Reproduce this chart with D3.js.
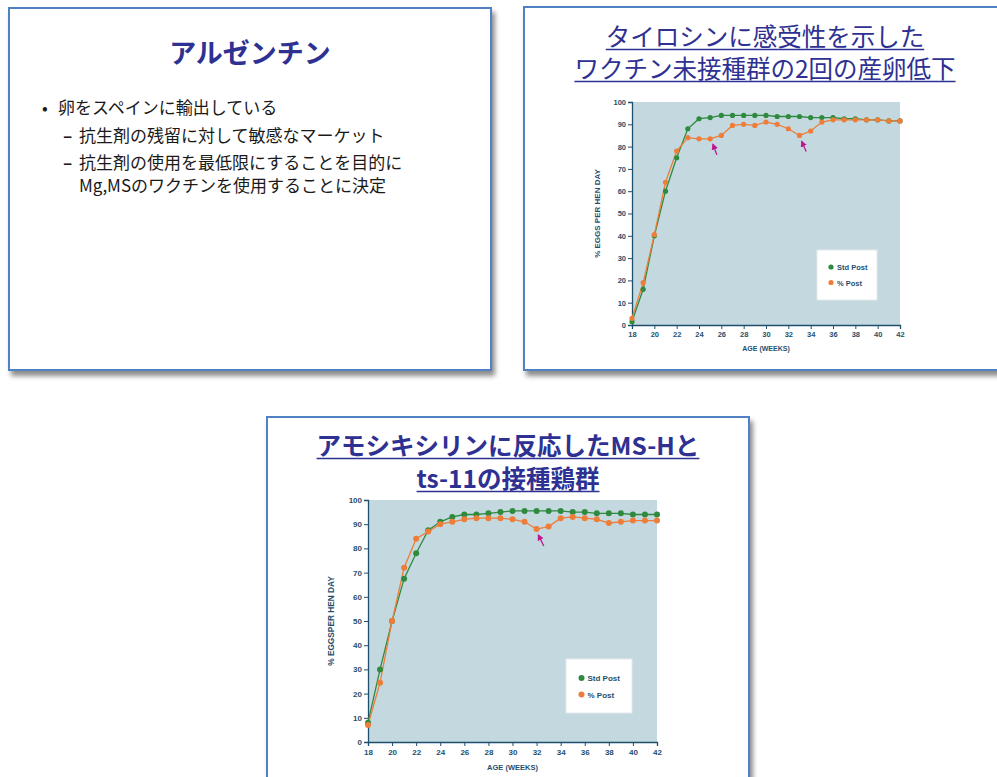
<!DOCTYPE html>
<html>
<head>
<meta charset="utf-8">
<script src="https://cdn.jsdelivr.net/npm/d3@7"></script>
<style>
  html, body { margin: 0; padding: 0; background: #ffffff; }
  svg { display: block; }
</style>
</head>
<body>
<svg id="page" width="997" height="777"></svg>
<script>
// ---- data -------------------------------------------------------------
const weeks = [18, 19, 20, 21, 22, 23, 24, 25, 26, 27, 28, 29, 30, 31, 32, 33, 34, 35, 36, 37, 38, 39, 40, 41, 42];

// Tylosin-sensitive, unvaccinated flock
const tylosinStd  = [1.5, 16, 40, 60, 75, 88, 92.5, 93, 94, 94, 94, 94, 94, 93.5, 93.5, 93.5, 93, 93, 93, 92.5, 92.5, 92, 92, 91.5, 91.5];
const tylosinPost = [3, 19, 40.5, 64, 78, 84, 83.5, 83.5, 85, 89.5, 90, 89.5, 91, 90, 88, 85, 87, 91, 92, 92, 92, 92, 92, 91.5, 91.5];

// Amoxicillin-responsive flock vaccinated with MS-H and ts-11
const amoxStd  = [8, 30, 50, 67.5, 78, 87.5, 91, 93, 94, 94, 94.5, 95, 95.5, 95.5, 95.5, 95.5, 95.5, 95, 95, 94.5, 94.5, 94.5, 94, 94, 94];
const amoxPost = [7, 24.5, 50, 72, 84, 87, 90, 91, 92, 92.5, 92.5, 92.5, 92, 91, 88, 89, 92.5, 93, 92.5, 92, 90.5, 91, 91.5, 91.5, 91.5];

const xTicks = [18, 20, 22, 24, 26, 28, 30, 32, 34, 36, 38, 40, 42];
const yTicks = [0, 10, 20, 30, 40, 50, 60, 70, 80, 90, 100];
const seriesNames = ["Std Post", "% Post"];

// drop markers: [tipWeek, tipValue, tailWeek, tailValue]
const tylosinDrops = [[25.25, 81, 25.6, 76.3], [33.2, 82.3, 33.6, 77.8]];
const amoxDrops    = [[32.15, 85.5, 32.6, 81]];

// slide text
const slide1Title = "アルゼンチン";
const slide1Bullets = [
  { mark: "•", text: "卵をスペインに輸出している", level: 0 },
  { mark: "–", text: "抗生剤の残留に対して敏感なマーケット", level: 1 },
  { mark: "–", text: "抗生剤の使用を最低限にすることを目的に", level: 1 },
  { mark: "",  text: "Mg,MSのワクチンを使用することに決定", level: 1 }
];
const slide2Title = ["タイロシンに感受性を示した", "ワクチン未接種群の2回の産卵低下"];
const slide3Title = ["アモシキシリンに反応したMS-Hと", "ts-11の接種鶏群"];

// ---- styles -----------------------------------------------------------
const NAVY = "#2e3192";
const AXIS = "#1f4f6e";
const GREEN = "#2f8a3f";
const ORANGE = "#ef7d3a";
const PLOTBG = "#c3d9df";
const ARROW = "#c0178f";
const JP = "'Noto Sans CJK JP', 'Noto Sans', sans-serif";
const SANS = "'Liberation Sans', Arial, sans-serif";

const svg = d3.select("#page");
const defs = svg.append("defs");

const shadow = defs.append("filter").attr("id", "slideShadow")
  .attr("x", "-5%").attr("y", "-5%").attr("width", "115%").attr("height", "115%");
shadow.append("feDropShadow")
  .attr("dx", 3).attr("dy", 5).attr("stdDeviation", 2.5)
  .attr("flood-color", "#000").attr("flood-opacity", 0.45);

const arrowHead = defs.append("marker").attr("id", "dropArrow")
  .attr("viewBox", "0 0 10 10").attr("refX", 8).attr("refY", 5)
  .attr("markerWidth", 5).attr("markerHeight", 5).attr("orient", "auto");
arrowHead.append("path").attr("d", "M0,0 L10,5 L0,10 z").attr("fill", ARROW);

// ---- slide frames ------------------------------------------------------
function slideFrame(x, y, w, h) {
  svg.append("rect")
    .attr("x", x).attr("y", y).attr("width", w).attr("height", h)
    .attr("fill", "#ffffff")
    .attr("stroke", "#4f81c4").attr("stroke-width", 2)
    .attr("filter", "url(#slideShadow)");
}
slideFrame(9, 8, 482, 362);
slideFrame(524, 7, 484, 363);
slideFrame(267, 417, 482, 400);

// underlined title block, lines centred on cx
function titleBlock(lines, cx, baselines, size, weight) {
  lines.forEach((t, i) => {
    const txt = svg.append("text")
      .attr("x", cx).attr("y", baselines[i])
      .attr("text-anchor", "middle")
      .attr("font-family", JP).attr("font-size", size).attr("font-weight", weight)
      .attr("fill", NAVY).text(t);
    const w = txt.node().getComputedTextLength();
    svg.append("line")
      .attr("x1", cx - w / 2).attr("x2", cx + w / 2)
      .attr("y1", baselines[i] + 3.5).attr("y2", baselines[i] + 3.5)
      .attr("stroke", NAVY).attr("stroke-width", 1.6);
  });
}

// ---- slide 1: text only ---------------------------------------------
svg.append("text")
  .attr("x", 250).attr("y", 63)
  .attr("text-anchor", "middle")
  .attr("font-family", JP).attr("font-size", 27).attr("font-weight", "bold")
  .attr("fill", NAVY).text(slide1Title);

const bulletBase = [114, 142, 169, 192];
slide1Bullets.forEach((b, i) => {
  const markX = b.level === 0 ? 42 : 63;
  const textX = b.level === 0 ? 58 : 79;
  if (b.mark) {
    svg.append("text").attr("x", markX).attr("y", bulletBase[i])
      .attr("font-family", JP).attr("font-size", 17)
      .attr("font-weight", b.level === 0 ? "normal" : "bold")
      .attr("fill", "#1a1a1a").text(b.mark);
  }
  svg.append("text").attr("x", textX).attr("y", bulletBase[i])
    .attr("font-family", JP).attr("font-size", 17)
    .attr("fill", "#1a1a1a").text(b.text);
});

// ---- slides 2 & 3: egg production charts -----------------------------
function eggChart(cfg) {
  const g = svg.append("g");
  const x = d3.scaleLinear().domain([18, 42]).range([cfg.left, cfg.right]);
  const y = d3.scaleLinear().domain([0, 100]).range([cfg.bottom, cfg.top]);

  g.append("rect")
    .attr("x", x(18)).attr("y", y(100))
    .attr("width", x(42) - x(18)).attr("height", y(0) - y(100))
    .attr("fill", PLOTBG);

  const yAxis = g.append("g").attr("transform", `translate(${x(18)},0)`)
    .call(d3.axisLeft(y).tickValues(yTicks).tickSize(4).tickPadding(2));
  const xAxis = g.append("g").attr("transform", `translate(0,${y(0)})`)
    .call(d3.axisBottom(x).tickValues(xTicks).tickSize(4).tickPadding(3));
  [yAxis, xAxis].forEach(a => {
    a.select(".domain").attr("stroke", AXIS).attr("stroke-width", 1.3);
    a.selectAll(".tick line").attr("stroke", AXIS).attr("stroke-width", 1);
    a.selectAll(".tick text")
      .attr("font-family", SANS).attr("font-size", cfg.tickSize)
      .attr("font-weight", "bold").attr("fill", AXIS);
  });

  g.append("text")
    .attr("x", (x(18) + x(42)) / 2).attr("y", cfg.xTitleY)
    .attr("text-anchor", "middle")
    .attr("font-family", SANS).attr("font-size", cfg.titleSize).attr("font-weight", "bold")
    .attr("fill", AXIS).text("AGE (WEEKS)");
  g.append("text")
    .attr("transform", `translate(${cfg.yTitleX},${(y(0) + y(100)) / 2}) rotate(-90)`)
    .attr("text-anchor", "middle")
    .attr("font-family", SANS).attr("font-size", cfg.yTitleSize).attr("font-weight", "bold")
    .attr("fill", AXIS).text(cfg.yTitle);

  const line = d3.line().x((d, i) => x(weeks[i])).y(d => y(d));
  const series = [
    { values: cfg.std, color: GREEN },
    { values: cfg.post, color: ORANGE }
  ];
  series.forEach(s => {
    g.append("path").datum(s.values)
      .attr("d", line).attr("fill", "none")
      .attr("stroke", s.color).attr("stroke-width", 1.3);
  });
  series.forEach(s => {
    g.append("g").selectAll("circle").data(s.values).join("circle")
      .attr("cx", (d, i) => x(weeks[i])).attr("cy", d => y(d))
      .attr("r", cfg.dot).attr("fill", s.color);
  });

  cfg.drops.forEach(a => {
    g.append("line")
      .attr("x1", x(a[2])).attr("y1", y(a[3]))
      .attr("x2", x(a[0])).attr("y2", y(a[1]))
      .attr("stroke", ARROW).attr("stroke-width", 1.3)
      .attr("marker-end", "url(#dropArrow)");
  });

  // legend
  const L = cfg.legend;
  g.append("rect").attr("x", L.x).attr("y", L.y).attr("width", L.w).attr("height", L.h)
    .attr("fill", "#ffffff").attr("stroke", "#e4e8ea").attr("stroke-width", 1);
  [GREEN, ORANGE].forEach((c, i) => {
    const cy = L.y + L.row0 + i * L.step;
    g.append("circle").attr("cx", L.x + L.dotDx).attr("cy", cy).attr("r", cfg.dot).attr("fill", c);
    g.append("text").attr("x", L.x + L.dotDx + 6).attr("y", cy + 3)
      .attr("font-family", SANS).attr("font-size", cfg.tickSize).attr("font-weight", "bold")
      .attr("fill", AXIS).text(seriesNames[i]);
  });
}

titleBlock(slide2Title, 765, [46, 78], 24.5, "normal");
eggChart({
  left: 632, right: 900, top: 102, bottom: 325,
  std: tylosinStd, post: tylosinPost, drops: tylosinDrops,
  tickSize: 7.5, titleSize: 7, yTitleSize: 8, dot: 2.6,
  xTitleY: 351, yTitleX: 600, yTitle: "% EGGS PER HEN DAY",
  legend: { x: 817, y: 250, w: 60, h: 50, row0: 17, step: 15.5, dotDx: 14 }
});

titleBlock(slide3Title, 508, [455, 488], 24.5, "bold");
eggChart({
  left: 368, right: 657, top: 500, bottom: 742,
  std: amoxStd, post: amoxPost, drops: amoxDrops,
  tickSize: 8, titleSize: 7.5, yTitleSize: 8.3, dot: 3,
  xTitleY: 770, yTitleX: 334, yTitle: "% EGGSPER HEN DAY",
  legend: { x: 566, y: 659, w: 66, h: 54, row0: 19, step: 16.5, dotDx: 15.5 }
});
</script>
</body>
</html>
